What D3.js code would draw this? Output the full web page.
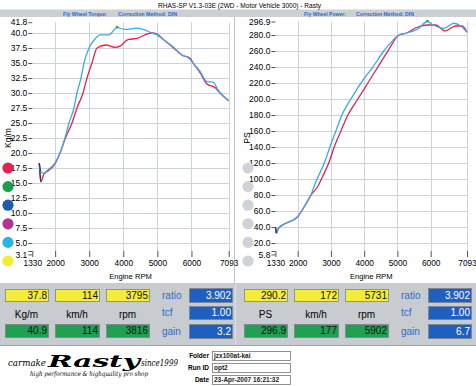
<!DOCTYPE html>
<html>
<head>
<meta charset="utf-8">
<script src="https://cdn.jsdelivr.net/npm/d3@7"></script>
<style>
html, body { margin: 0; padding: 0; background: #fff; }
svg { display: block; font-family: "Liberation Sans", Arial, sans-serif; }
</style>
</head>
<body>
<div id="chart"></div>
<script>
// ---- data ----
var rpmTicks = [1330, 2000, 3000, 4000, 5000, 6000, 7093];
var torqueTicks = [3.1, 5, 7.5, 10, 12.5, 15, 17.5, 20, 22.5, 25, 27.5, 30, 32.5, 35, 37.5, 40, 41.8];
var powerTicks = [5.8, 20, 40, 60, 80, 100, 120, 140, 160, 180, 200, 220, 240, 260, 280, 296.9];

// torque, red run
var torqueRpmA = [1535, 1577, 1673, 1791, 1996, 2143, 2289, 2495, 2641, 2818, 2935, 3082, 3229, 3492, 3757, 3904, 4139, 4402, 4636, 4842, 4989, 5224, 5459, 5725, 5960, 6045, 6252, 6457, 6692, 6838, 7093];
var torqueA = [18.3, 15.2, 16.5, 17.0, 18.2, 20.0, 22.3, 25.0, 27.5, 30.0, 32.5, 35.0, 37.5, 38.0, 37.6, 37.8, 38.9, 39.1, 39.7, 40.0, 39.8, 38.7, 37.6, 36.3, 35.8, 35.0, 33.4, 31.5, 30.9, 30.0, 28.7];
// torque, blue run
var torqueRpmB = [1535, 1571, 1673, 1791, 1996, 2143, 2289, 2407, 2553, 2641, 2759, 2847, 2994, 3170, 3317, 3580, 3815, 4050, 4402, 4578, 4842, 4989, 5224, 5459, 5725, 5901, 6045, 6252, 6457, 6633, 6780, 7093];
var torqueB = [18.3, 16.9, 16.6, 17.2, 18.3, 20.0, 22.5, 25.0, 27.5, 30.0, 32.5, 35.0, 37.5, 39.0, 39.7, 39.7, 40.9, 40.6, 40.8, 40.6, 40.0, 39.7, 38.7, 37.7, 36.3, 35.9, 35.0, 33.6, 31.9, 31.8, 30.5, 28.7];

// power, red run
var powerRpmA = [1330, 1360, 1420, 1648, 1999, 2198, 2399, 2600, 2760, 2931, 3099, 3300, 3510, 3810, 4111, 4411, 4711, 5051, 5249, 5603, 5903, 6150, 6432, 6753, 6952, 7093];
var powerA = [39.7, 32.5, 38.4, 44.7, 52.9, 65.4, 80.0, 90.4, 104.0, 119.7, 140, 160, 180, 200, 220, 240, 260, 280, 282.2, 289.7, 292.5, 292.5, 285.1, 291.3, 291.3, 283.4];
// power, blue run
var powerRpmB = [1330, 1360, 1420, 1648, 1999, 2198, 2399, 2549, 2798, 2970, 3150, 3330, 3600, 3901, 4261, 4591, 5051, 5249, 5603, 5903, 6054, 6402, 6702, 6903, 7093];
var powerB = [39.7, 32.5, 38.4, 44.7, 52.9, 65.4, 80.0, 96.7, 119.7, 140, 160, 180, 200, 220, 240, 260, 280, 282.2, 287.2, 296.9, 293.2, 288.4, 294.7, 291.3, 283.4];

var readoutTopL = ["37.8", "114", "3795"];
var readoutBotL = ["40.9", "114", "3816"];
var unitsL = ["Kg/m", "km/h", "rpm"];
var readoutTopR = ["290.2", "172", "5731"];
var readoutBotR = ["296.9", "177", "5902"];
var unitsR = ["PS", "km/h", "rpm"];
var settingNames = ["ratio", "tcf", "gain"];
var settingsL = ["3.902", "1.00", "3.2"];
var settingsR = ["3.902", "1.00", "6.7"];
var runColors = ["#e8204f", "#1d9e4f", "#1f5bab", "#b23593", "#28b3ea", "#f5ec34"];
var runInfoLabels = ["Folder", "Run ID", "Date"];
var runInfoValues = ["jzx100at-kai", "opt2", "23-Apr-2007  16:21:32"];

var RED = "#e8204f", BLUE = "#3aa9e6";
var W = 476, H = 386;

var svg = d3.select("#chart").append("svg")
    .attr("width", W)
    .attr("height", H);

// header
svg.append("rect").attr("x", 0).attr("y", 9.5).attr("width", W).attr("height", 7.5).attr("fill", "#cbd0d5");
svg.append("text")
    .attr("x", 158).attr("y", 8)
    .attr("font-size", 8).attr("textLength", 163).attr("lengthAdjust", "spacingAndGlyphs")
    .text("RHAS-SP V1.3-03E  (2WD - Motor Vehicle 3000) - Rasty");

function subTitle(x, len, txt) {
    svg.append("text")
        .attr("x", x).attr("y", 15.5)
        .attr("font-size", 6).attr("font-weight", "bold").attr("fill", "#2b6cc4")
        .attr("textLength", len).attr("lengthAdjust", "spacingAndGlyphs")
        .text(txt);
}
subTitle(63, 44, "Fly Wheel Torque:");
subTitle(118, 59, "Correction Method: DIN");
subTitle(304, 42, "Fly Wheel Power:");
subTitle(356, 58, "Correction Method: DIN");

// divider between the two plots
svg.append("line").attr("x1", 234.5).attr("x2", 234.5).attr("y1", 17).attr("y2", 283)
    .attr("stroke", "#bcc2c8");

function drawChart(o) {
    var g = svg.append("g");
    var x = o.x, y = o.y;
    var yTop = y(o.yTicks[o.yTicks.length - 1]), yBot = y(o.yTicks[0]);
    var inner = o.yTicks.slice(1, -1);

    // grid
    g.append("g").selectAll("line").data(inner).enter().append("line")
        .attr("x1", x.range()[0]).attr("x2", x.range()[1])
        .attr("y1", function (d) { return Math.round(y(d)) + 0.5; })
        .attr("y2", function (d) { return Math.round(y(d)) + 0.5; })
        .attr("stroke", "#cdd3da");
    g.append("g").selectAll("line").data(rpmTicks.slice(1)).enter().append("line")
        .attr("x1", function (d) { return Math.round(x(d)) + 0.5; })
        .attr("x2", function (d) { return Math.round(x(d)) + 0.5; })
        .attr("y1", yTop).attr("y2", 251)
        .attr("stroke", "#cdd3da");

    // y axis
    var ya = g.append("g")
        .attr("transform", "translate(" + x.range()[0] + ",0)")
        .call(d3.axisLeft(y).tickValues(o.yTicks).tickSize(4).tickPadding(1).tickFormat(d3.format(".1f")));
    ya.select(".domain").remove();
    ya.selectAll("line").attr("stroke", "#555");
    ya.selectAll("text").attr("font-size", 8.5).attr("font-family", "Liberation Sans, Arial, sans-serif");

    // x axis
    var xa = g.append("g")
        .attr("transform", "translate(0,251)")
        .call(d3.axisBottom(x).tickValues(rpmTicks).tickSize(6).tickPadding(3).tickFormat(d3.format("d")));
    xa.select(".domain").remove();
    xa.selectAll("line").attr("stroke", "#555");
    xa.selectAll("text").attr("font-size", 8.3).attr("font-family", "Liberation Sans, Arial, sans-serif");
    // short stub at the corner of the axes
    g.append("line").attr("x1", x.range()[0] - 4).attr("x2", x.range()[0])
        .attr("y1", 251.5).attr("y2", 251.5).attr("stroke", "#555");

    g.append("text")
        .attr("x", (x.range()[0] + x.range()[1]) / 2).attr("y", 279)
        .attr("text-anchor", "middle").attr("font-size", 7.6)
        .text("Engine RPM");

    g.append("text")
        .attr("transform", "translate(" + o.labelX + ",138) rotate(-90)")
        .attr("text-anchor", "middle").attr("font-size", 8.5)
        .text(o.label);

    // legend dots
    g.append("g").selectAll("circle").data(o.dots).enter().append("circle")
        .attr("cx", o.dotX)
        .attr("cy", function (d, i) { return 168 + i * 18.6; })
        .attr("r", 5.6)
        .attr("fill", function (d) { return d; });

    var line = d3.line()
        .x(function (d) { return x(d[0]); })
        .y(function (d) { return y(d[1]); })
        .curve(d3.curveMonotoneX);

    o.series.forEach(function (s) {
        var pts = s.rpm.map(function (r, i) { return [r, s.val[i]]; });
        g.append("path")
            .datum(pts)
            .attr("d", line)
            .attr("fill", "none")
            .attr("stroke", s.color)
            .attr("stroke-width", 1.3);
        // dark start spike where both runs overlap
        g.append("path")
            .datum(pts.slice(0, 2))
            .attr("d", line)
            .attr("fill", "none")
            .attr("stroke", "#4a2b6b")
            .attr("stroke-width", 1.2);
    });

    // peak marker on blue run
    var b = o.series[1];
    var mi = d3.maxIndex(b.val);
    g.append("circle")
        .attr("cx", x(b.rpm[mi])).attr("cy", y(b.val[mi]) - 0.5)
        .attr("r", 1.3).attr("fill", "#2aa84a");
}

drawChart({
    x: d3.scaleLinear().domain([1330, 7093]).range([32.3, 228.7]),
    y: d3.scaleLinear().domain([3.1, 41.8]).range([254.4, 22.2]),
    yTicks: torqueTicks,
    label: "Kg/m", labelX: 11,
    dots: runColors, dotX: 8,
    series: [
        {rpm: torqueRpmA, val: torqueA, color: RED},
        {rpm: torqueRpmB, val: torqueB, color: BLUE}
    ]
});

drawChart({
    x: d3.scaleLinear().domain([1330, 7093]).range([275.4, 467]),
    y: d3.scaleLinear().domain([5.8, 296.9]).range([254.4, 21.5]),
    yTicks: powerTicks,
    label: "PS", labelX: 250,
    dots: runColors.map(function () { return "#cfd3d7"; }), dotX: 248,
    series: [
        {rpm: powerRpmA, val: powerA, color: RED},
        {rpm: powerRpmB, val: powerB, color: BLUE}
    ]
});

// ---- readout panel ----
svg.append("rect").attr("x", 0).attr("y", 283).attr("width", W).attr("height", 63).attr("fill", "#c8ccd1");
svg.append("line").attr("x1", 0).attr("x2", W).attr("y1", 345.5).attr("y2", 345.5).attr("stroke", "#9ea4aa");
svg.append("line").attr("x1", 235.5).attr("x2", 235.5).attr("y1", 283).attr("y2", 345).attr("stroke", "#dde0e3");

var boxX = [5, 55, 106];
var boxW = [43, 44, 43];

function box(x, y, w, h, fill, txt, txtColor) {
    svg.append("rect").attr("x", x + 0.5).attr("y", y + 0.5).attr("width", w).attr("height", h)
        .attr("fill", fill).attr("stroke", "#7d848b").attr("stroke-width", 0.8);
    svg.append("text")
        .attr("x", x + w - 1).attr("y", y + h / 2 + 3.6)
        .attr("text-anchor", "end").attr("font-size", 10)
        .attr("fill", txtColor)
        .text(txt);
}

function panel(ox, top, bot, units, settings) {
    boxX.forEach(function (bx, i) {
        box(ox + bx, 289, boxW[i], 12, "#f4ec3a", top[i], "#111");
        box(ox + bx, 324, boxW[i], 13, "#1fa052", bot[i], "#111");
        svg.append("text")
            .attr("x", ox + bx + boxW[i] / 2).attr("y", 317.5)
            .attr("text-anchor", "middle").attr("font-size", 10)
            .text(units[i]);
    });
    var rowY = [288, 306, 324], rowH = [14, 13, 14];
    settingNames.forEach(function (n, i) {
        svg.append("text")
            .attr("x", ox + 162).attr("y", rowY[i] + rowH[i] / 2 + 3.6)
            .attr("font-size", 10).attr("fill", "#2d6bc9")
            .text(n);
        box(ox + 189, rowY[i], 43, rowH[i], "#1f5fc0", settings[i], "#fff");
    });
}
panel(0, readoutTopL, readoutBotL, unitsL, settingsL);
panel(239, readoutTopR, readoutBotR, unitsR, settingsR);

// ---- footer ----
var logo = svg.append("g").attr("font-family", "DejaVu Serif, Liberation Serif, serif").attr("font-style", "italic");
logo.append("text").attr("x", 8).attr("y", 366).attr("font-size", 9)
    .attr("textLength", 38).attr("lengthAdjust", "spacingAndGlyphs").text("carmake");
logo.append("text").attr("x", 48).attr("y", 367).attr("font-size", 17).attr("font-weight", "bold")
    .attr("textLength", 92).attr("lengthAdjust", "spacingAndGlyphs").text("Rasty");
logo.append("text").attr("x", 141).attr("y", 366).attr("font-size", 9)
    .attr("textLength", 37).attr("lengthAdjust", "spacingAndGlyphs").text("since1999");
logo.append("text").attr("x", 30).attr("y", 376).attr("font-size", 6.5)
    .attr("textLength", 118).attr("lengthAdjust", "spacingAndGlyphs")
    .text("high performance & highquality pro shop");

runInfoLabels.forEach(function (l, i) {
    var yy = 351 + i * 12;
    svg.append("text")
        .attr("x", 209).attr("y", yy + 7)
        .attr("text-anchor", "end").attr("font-size", 6.5).attr("font-weight", "bold")
        .text(l);
    svg.append("rect").attr("x", 212.5).attr("y", yy + 0.5).attr("width", 78).attr("height", 9)
        .attr("fill", "#fff").attr("stroke", "#777").attr("stroke-width", 0.8);
    svg.append("text")
        .attr("x", 214).attr("y", yy + 7.3)
        .attr("font-size", 6.5).attr("font-weight", "bold").attr("fill", "#222")
        .text(runInfoValues[i]);
});
</script>
</body>
</html>
